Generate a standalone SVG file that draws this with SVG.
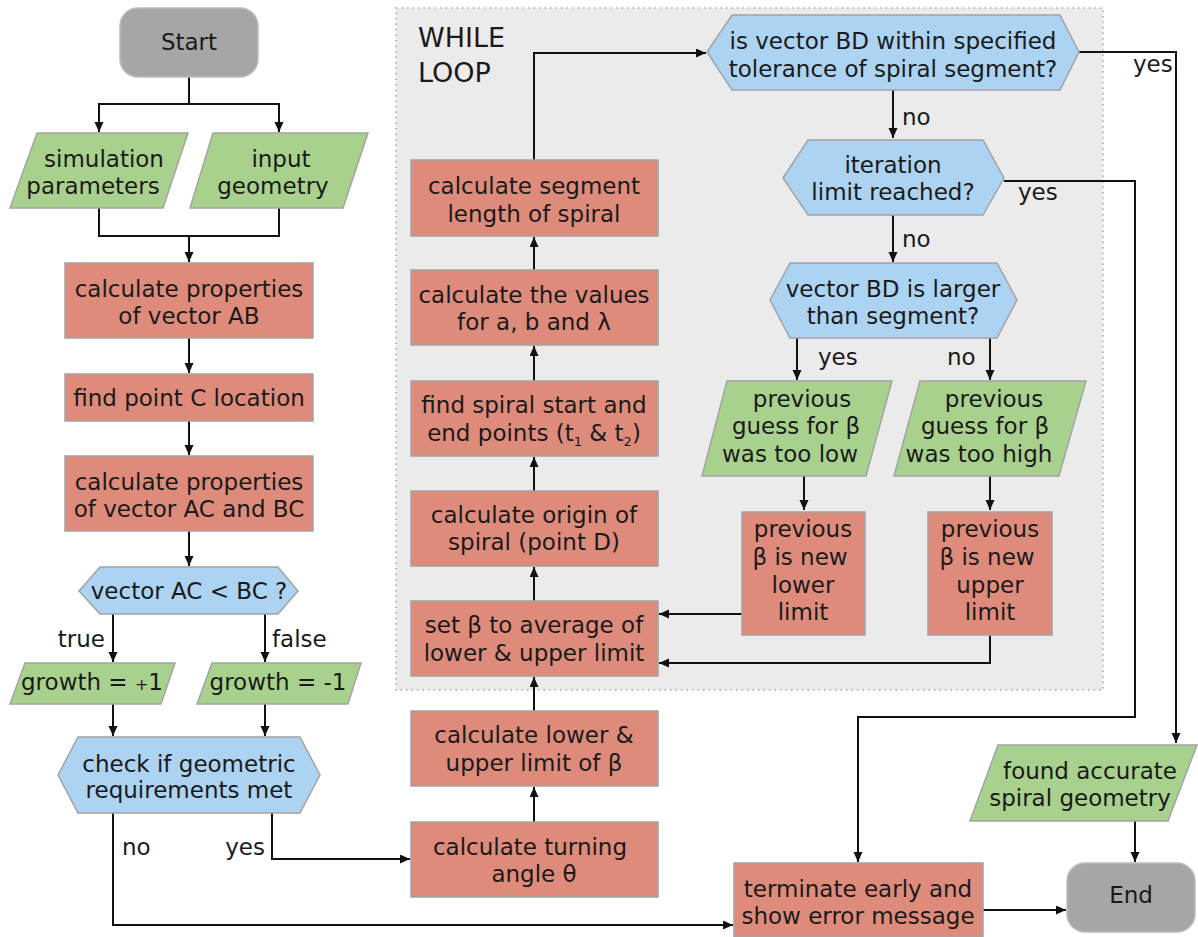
<svg xmlns="http://www.w3.org/2000/svg" width="1198" height="937" viewBox="0 0 1198 937">
<defs>
<marker id="ah" markerWidth="11" markerHeight="10" refX="10" refY="4.5" orient="auto" markerUnits="userSpaceOnUse">
<path d="M0,0 L10,4.5 L0,9 z" fill="#111"/>
</marker>
<style>
.t{font-family:"DejaVu Sans","Liberation Sans",sans-serif;font-size:23px;fill:#1a1a1a;text-anchor:middle}
.l{font-family:"DejaVu Sans","Liberation Sans",sans-serif;font-size:23px;fill:#1a1a1a}
.proc{fill:#de8b7b;stroke:#a3a3a3;stroke-width:1.5}
.io{fill:#a9d18e;stroke:#a3a3a3;stroke-width:1.5}
.dec{fill:#acd3f1;stroke:#a3a3a3;stroke-width:1.5}
.term{fill:#a6a6a6;stroke:#bdbdbd;stroke-width:1.5}
.c{fill:none;stroke:#111;stroke-width:2}
.a{marker-end:url(#ah)}
</style>
</defs>
<rect width="1198" height="937" fill="#ffffff"/>

<g id="while-loop">
<rect x="396" y="8" width="707" height="682" fill="#ebebeb" stroke="#a8a8a8" stroke-width="1.5" stroke-dasharray="1.5,4"/>
<text class="l" x="418" y="47" style="font-size:27px">WHILE</text>
<text class="l" x="418" y="82" style="font-size:27px">LOOP</text>
</g>

<g id="connectors">
<path class="c a" d="M189,77 V104 H99 V132"/>
<path class="c a" d="M189,104 H279 V132"/>
<path class="c" d="M99,208 V236 H279 V208"/>
<path class="c a" d="M189,236 V262"/>
<path class="c a" d="M189,338 V373"/>
<path class="c a" d="M189,421 V455"/>
<path class="c a" d="M189,531 V566"/>
<path class="c a" d="M113,614 V662"/>
<path class="c a" d="M265,614 V662"/>
<path class="c a" d="M113,704 V736"/>
<path class="c a" d="M265,704 V736"/>
<path class="c a" d="M113,813 V925 H733"/>
<path class="c a" d="M272,813 V859 H410"/>
<path class="c a" d="M534,822 V787"/>
<path class="c a" d="M534,711 V677"/>
<path class="c a" d="M534,601 V567"/>
<path class="c a" d="M534,491 V457"/>
<path class="c a" d="M534,381 V346"/>
<path class="c a" d="M534,270 V237"/>
<path class="c a" d="M534,160 V53 H706"/>
<path class="c a" d="M893,90 V138"/>
<path class="c a" d="M1079,52 H1176 V743"/>
<path class="c a" d="M1004,181 H1135 V717 H858 V862"/>
<path class="c a" d="M893,215 V262"/>
<path class="c a" d="M797,338 V380"/>
<path class="c a" d="M990,338 V380"/>
<path class="c a" d="M804,476 V510"/>
<path class="c a" d="M990,476 V510"/>
<path class="c a" d="M742,614 H659"/>
<path class="c a" d="M990,635 V663 H659"/>
<path class="c a" d="M1135,821 V862"/>
<path class="c a" d="M983,910 H1066"/>
<text class="l" x="105" y="647" style="text-anchor:end">true</text>
<text class="l" x="272" y="647">false</text>
<text class="l" x="122" y="855">no</text>
<text class="l" x="265" y="855" style="text-anchor:end">yes</text>
<text class="l" x="1133" y="72">yes</text>
<text class="l" x="902" y="125">no</text>
<text class="l" x="1018" y="200">yes</text>
<text class="l" x="902" y="247">no</text>
<text class="l" x="818" y="365">yes</text>
<text class="l" x="947" y="365">no</text>
</g>

<g id="start">
<rect class="term" x="120" y="8" width="138" height="69" rx="18"/>
<text class="t" x="189" y="50">Start</text>
</g>

<g id="simulation-parameters">
<polygon class="io" points="37,133 188,133 163,208 10,208"/>
<text class="t" x="104" y="167">simulation</text>
<text class="t" x="93" y="194">parameters</text>
</g>

<g id="input-geometry">
<polygon class="io" points="213,133 368,133 343,208 190,208"/>
<text class="t" x="281" y="167">input</text>
<text class="t" x="273" y="194">geometry</text>
</g>

<g id="calc-ab">
<rect class="proc" x="65" y="263" width="248" height="75"/>
<text class="t" x="189" y="297">calculate properties</text>
<text class="t" x="189" y="324">of vector AB</text>
</g>

<g id="find-c">
<rect class="proc" x="65" y="374" width="248" height="47"/>
<text class="t" x="189" y="406">find point C location</text>
</g>

<g id="calc-ac-bc">
<rect class="proc" x="65" y="456" width="248" height="75"/>
<text class="t" x="189" y="490">calculate properties</text>
<text class="t" x="189" y="517">of vector AC and BC</text>
</g>

<g id="ac-lt-bc">
<polygon class="dec" points="79,591 100,567 278,567 298,591 278,614 100,614"/>
<text class="t" x="189" y="599">vector AC &lt; BC ?</text>
</g>

<g id="growth-plus">
<polygon class="io" points="25,663 175,663 161,704 10,704"/>
<text class="t" x="92" y="690">growth = <tspan style="font-size:16px">+</tspan>1</text>
</g>

<g id="growth-minus">
<polygon class="io" points="212,663 361,663 348,704 197,704"/>
<text class="t" x="278" y="690">growth = -1</text>
</g>

<g id="check-geometric">
<polygon class="dec" points="58,775 78,737 300,737 320,775 300,813 78,813"/>
<text class="t" x="189" y="772">check if geometric</text>
<text class="t" x="189" y="798">requirements met</text>
</g>

<g id="turning-angle">
<rect class="proc" x="411" y="822" width="247" height="75"/>
<text class="t" x="530" y="855">calculate turning</text>
<text class="t" x="534" y="882">angle θ</text>
</g>

<g id="beta-limits">
<rect class="proc" x="411" y="711" width="247" height="75"/>
<text class="t" x="534" y="743">calculate lower &amp;</text>
<text class="t" x="534" y="771">upper limit of β</text>
</g>

<g id="set-beta">
<rect class="proc" x="411" y="601" width="247" height="75"/>
<text class="t" x="534" y="633">set β to average of</text>
<text class="t" x="534" y="661">lower &amp; upper limit</text>
</g>

<g id="origin">
<rect class="proc" x="411" y="491" width="247" height="75"/>
<text class="t" x="534" y="523">calculate origin of</text>
<text class="t" x="534" y="550">spiral (point D)</text>
</g>

<g id="start-end-points">
<rect class="proc" x="411" y="381" width="247" height="75"/>
<text class="t" x="534" y="413">find spiral start and</text>
<text class="t" x="534" y="441">end points (t<tspan style="font-size:13px" dy="5">1</tspan><tspan dy="-5"> &amp; t</tspan><tspan style="font-size:13px" dy="5">2</tspan><tspan dy="-5">)</tspan></text>
</g>

<g id="values-abl">
<rect class="proc" x="411" y="270" width="247" height="75"/>
<text class="t" x="534" y="303">calculate the values</text>
<text class="t" x="534" y="330">for a, b and λ</text>
</g>

<g id="segment-length">
<rect class="proc" x="411" y="160" width="247" height="76"/>
<text class="t" x="534" y="194">calculate segment</text>
<text class="t" x="534" y="222">length of spiral</text>
</g>

<g id="tolerance">
<polygon class="dec" points="707,52 732,15 1060,15 1079,52 1060,90 732,90"/>
<text class="t" x="893" y="49">is vector BD within specified</text>
<text class="t" x="893" y="77">tolerance of spiral segment?</text>
</g>

<g id="iteration-limit">
<polygon class="dec" points="783,178 808,140 983,140 1004,178 983,215 808,215"/>
<text class="t" x="893" y="173">iteration</text>
<text class="t" x="893" y="200">limit reached?</text>
</g>

<g id="bd-larger">
<polygon class="dec" points="770,300 790,263 997,263 1017,300 997,338 790,338"/>
<text class="t" x="893" y="297">vector BD is larger</text>
<text class="t" x="893" y="324">than segment?</text>
</g>

<g id="too-low">
<polygon class="io" points="727,381 892,381 866,476 702,476"/>
<text class="t" x="802" y="407">previous</text>
<text class="t" x="796" y="434">guess for β</text>
<text class="t" x="790" y="462">was too low</text>
</g>

<g id="too-high">
<polygon class="io" points="920,381 1086,381 1059,476 894,476"/>
<text class="t" x="994" y="407">previous</text>
<text class="t" x="985" y="434">guess for β</text>
<text class="t" x="979" y="462">was too high</text>
</g>

<g id="new-lower">
<rect class="proc" x="742" y="512" width="123" height="123"/>
<text class="t" x="803" y="537">previous</text>
<text class="t" x="800" y="565">β is new</text>
<text class="t" x="803" y="593">lower</text>
<text class="t" x="803" y="620">limit</text>
</g>

<g id="new-upper">
<rect class="proc" x="928" y="512" width="124" height="123"/>
<text class="t" x="990" y="537">previous</text>
<text class="t" x="987" y="565">β is new</text>
<text class="t" x="990" y="593">upper</text>
<text class="t" x="990" y="620">limit</text>
</g>

<g id="found">
<polygon class="io" points="998,745 1197,745 1168,821 970,821"/>
<text class="t" x="1090" y="779">found accurate</text>
<text class="t" x="1080" y="806">spiral geometry</text>
</g>

<g id="terminate">
<rect class="proc" x="734" y="863" width="249" height="74"/>
<text class="t" x="858" y="897">terminate early and</text>
<text class="t" x="858" y="924">show error message</text>
</g>

<g id="end">
<rect class="term" x="1067" y="863" width="128" height="69" rx="18"/>
<text class="t" x="1131" y="903">End</text>
</g>
</svg>
